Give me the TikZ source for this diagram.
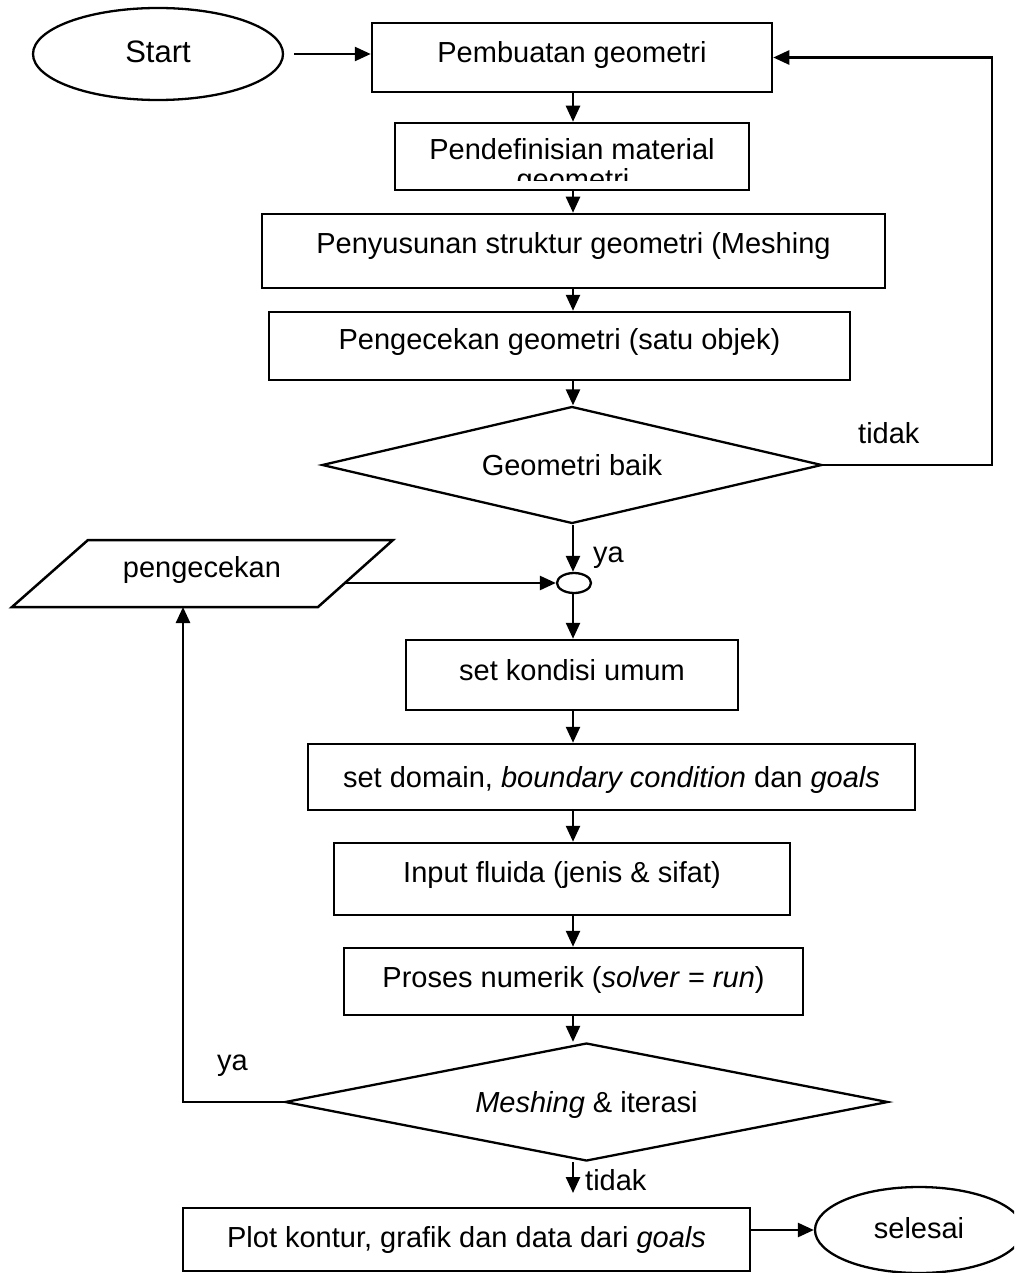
\documentclass[tikz,border=0pt]{standalone}
\usepackage{fontspec}
\setmainfont{Liberation Sans}
\usetikzlibrary{shapes.geometric,arrows.meta,calc}
\begin{document}
\begin{tikzpicture}[x=1pt,y=-1pt,
  txt/.style={font=\fontsize{29}{33}\selectfont},
  box/.style={txt,draw,line width=2.5pt,rectangle,inner xsep=0pt,inner ysep=0pt},
  dia/.style={txt,draw,line width=2.3pt,diamond,inner sep=0pt,text height=21pt,text depth=0pt},
  oval/.style={txt,draw,line width=2.3pt,ellipse,inner sep=0pt},
  lbl/.style={txt,inner sep=0pt,anchor=base west},
  arr/.style={line width=2.5pt,-{Triangle[length=16pt,width=14pt]}},
  ln/.style={line width=2.5pt}]
\useasboundingbox (0,0) rectangle (1014,1273);
\clip (0,0) rectangle (1014,1273);

% nodes
\node[oval, minimum width=250pt, minimum height=92pt, font=\fontsize{31}{35}\selectfont, text height=23pt, text depth=5pt] (start) at (158,54) {Start};
\node[box, minimum width=400pt, text height=40pt, text depth=29pt] (pemb) at (572,57.5) {Pembuatan geometri};
\node[box, minimum width=354pt, text height=37pt, text depth=30pt] (pendef) at (572,156.5) {Pendefinisian material};
\begin{scope}
  \clip (396,124) rectangle (748,181);
  \node[txt, anchor=base, inner sep=0pt] (geo) at (573,190) {geometri};
\end{scope}
\node[box, minimum width=623pt, text height=40pt, text depth=34pt] (penyus) at (573.5,251) {Penyusunan struktur geometri (Meshing};
\node[box, minimum width=581pt, text height=37pt, text depth=31pt] (pengec) at (559.5,346) {Pengecekan geometri (satu objek)};
\node[dia, minimum width=500pt, minimum height=117pt, aspect=4.3] (d1) at (572,465) {Geometri baik};
\node[oval, minimum width=34pt, minimum height=20pt] (jn) at (574,583) {};

\draw[ln] (12,607) -- (318,607) -- (393,540) -- (88,540) -- cycle;
\node[txt, anchor=base, inner sep=0pt] (pg) at (202,577) {pengecekan};
\coordinate (pgR) at (346,583);
\coordinate (pgB) at (183,607);

\node[box, minimum width=332pt, text height=40pt, text depth=30pt] (setk) at (572,675) {set kondisi umum};
\node[box, minimum width=607pt, text height=43pt, text depth=23pt] (setd) at (611.5,777) {set domain, \textit{boundary condition} dan \textit{goals}};
\node[box, minimum width=456pt, text height=39pt, text depth=33pt] (inp) at (562,879) {Input fluida (jenis \& sifat)};
\node[box, minimum width=459pt, text height=39pt, text depth=28pt] (pros) at (573.5,981.5) {Proses numerik (\textit{solver} = \textit{run})};
\node[dia, minimum width=603pt, minimum height=118pt, aspect=5.1] (d2) at (586.5,1102) {\textit{Meshing} \& iterasi};
\node[box, minimum width=567pt, text height=39pt, text depth=24pt] (plot) at (466.5,1239.5) {Plot kontur, grafik dan data dari \textit{goals}};
\node[oval, minimum width=208pt, minimum height=86pt, text height=21pt, text depth=5pt] (sel) at (919,1230) {selesai};

% labels
\node[lbl] (tidak1) at (858,443) {tidak};
\node[lbl] (ya1) at (593,562) {ya};
\node[lbl] (ya2) at (217,1070) {ya};
\node[lbl] (tidak2) at (585,1190) {tidak};

% connectors
\coordinate (ax) at (573,0);
\draw[arr, shorten <=10pt] (start.east) -- (start.east -| pemb.west);
\draw[arr] (pemb.south -| ax) -- (pendef.north -| ax);
\draw[arr] (pendef.south -| ax) -- (penyus.north -| ax);
\draw[arr] (penyus.south -| ax) -- (pengec.north -| ax);
\draw[arr] (pengec.south -| ax) -- (d1.north -| ax);
\coordinate (fbx) at (992,300);
\draw[arr] (d1.east) -| (fbx) |- (pemb.east);
\draw[arr] (d1.south -| ax) -- (jn.north -| ax);
\draw[arr] (pgR) -- (jn.west);
\draw[arr] (jn.south -| ax) -- (setk.north -| ax);
\draw[arr] (setk.south -| ax) -- (setd.north -| ax);
\draw[arr] (setd.south -| ax) -- (inp.north -| ax);
\draw[arr] (inp.south -| ax) -- (pros.north -| ax);
\draw[arr] (pros.south -| ax) -- (d2.north -| ax);
\draw[arr] (d2.west) -| (pgB);
\coordinate (tk) at (573,1193);
\draw[arr] (d2.south -| ax) -- (tk);
\draw[arr] (sel.west -| plot.east) -- (sel.west);
\end{tikzpicture}
\end{document}
